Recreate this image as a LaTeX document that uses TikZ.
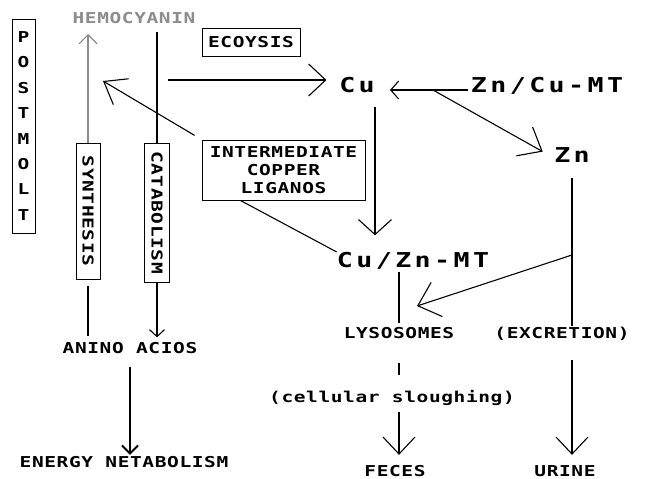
\documentclass[tikz,border=0pt]{standalone}
\usepackage{fontspec}
\usetikzlibrary{arrows.meta}
\newfontfamily\pfs{DejaVu Sans Mono Bold}[FakeStretch=1.3, LetterSpace=4]
\newfontfamily\pfl{DejaVu Sans Mono Bold}[FakeStretch=1.3, LetterSpace=16.6]
\definecolor{hgrey}{RGB}{140,140,140}
\begin{document}
\begin{tikzpicture}[x=1pt,y=-1pt,
  sm/.style={font=\pfs\fontsize{15}{18}\selectfont, inner sep=0pt, text height=10.9pt, text depth=0pt},
  smb/.style={font=\pfs\fontsize{15}{18}\selectfont, inner sep=0pt},
  lg/.style={font=\pfl\fontsize{20.5}{24}\selectfont, inner sep=0pt, text height=15pt, text depth=0pt},
  box/.style={draw, line width=1pt},
  ln/.style={line width=1.1pt},
  tipS/.style={-{Straight Barb[length=7pt,width=15pt]}},
  tipM/.style={-{Straight Barb[length=9pt,width=18pt]}},
  tipB/.style={-{Straight Barb[length=17pt,width=32pt]}}
]
\fill[white] (0,0) rectangle (646,479);
\useasboundingbox (0,0) rectangle (646,479);

% nodes
\node[box, font=\pfs\fontsize{15}{25.4}\selectfont, inner sep=0pt, align=center,
      minimum width=23pt, minimum height=214pt] (postmolt) at (23.5,126) {P\\O\\S\\T\\M\\O\\L\\T};
\node[sm, text=hgrey] (hemo) at (134,18) {HEMOCYANIN};
\node[box, sm, minimum width=98pt, minimum height=28pt] (ecd) at (251,42) {ECOYSIS};
\node[box, smb, align=center, minimum width=163pt, minimum height=60pt] (inter) at (283.5,170)
      {INTERMEDIATE\\COPPER\\LIGANOS};
\node[box, smb, minimum width=24pt, minimum height=136pt] (synth) at (88,211) {\rotatebox{-90}{SYNTHESIS}};
\node[box, smb, minimum width=25pt, minimum height=139pt] (catab) at (157,212.5) {\rotatebox{-90}{CATABOLISM}};
\node[lg] (cu) at (357,85) {Cu};
\node[lg] (zncu) at (547,85) {Zn/Cu-MT};
\node[lg] (zn) at (572,155) {Zn};
\node[lg] (cuzn) at (413,260) {Cu/Zn-MT};
\node[sm] (amino) at (130,348) {ANINO ACIOS};
\node[sm] (energy) at (124,462) {ENERGY NETABOLISM};
\node[sm] (lyso) at (399,333) {LYSOSOMES};
\node[sm] (slough) at (392,397) {(cellular sloughing)};
\node[sm] (excr) at (562,333) {(EXCRETION)};
\node[sm] (feces) at (395,471) {FECES};
\node[sm] (urine) at (565,471) {URINE};

% free ends
\coordinate (hemoFoot) at (157,32);
\coordinate (hemoTip) at (88,34);
\coordinate (ecdStart) at (168,80);
\coordinate (leftTip) at (103,81);
\coordinate (split) at (433,90);
\coordinate (znSplit) at (572,255);
\coordinate (lysoTip) at (417,306);

% connectors
\draw[ln] (hemoFoot) -- (catab.north);
\draw[ln, hgrey, tipM] (synth.north) -- (hemoTip);
\draw[ln, shorten <=6pt, shorten >=6pt] (synth.south) -- (synth.south |- amino.north);
\draw[ln, tipS, shorten >=5pt] (catab.south) -- (catab.south |- amino.north);
\draw[line width=2pt, -{Straight Barb[length=8pt,width=16pt]}, shorten <=13pt, shorten >=1.5pt]
      (amino.south) -- (amino.south |- energy.north);
\draw[ln, tipB, shorten >=12.6pt] (ecdStart) -- (ecdStart -| cu.west);
\draw[ln, -{Straight Barb[length=20pt,width=30pt]}, shorten <=8pt] (inter.north west) -- (leftTip);
\draw[ln, -{Straight Barb[length=8pt,width=18pt]}, shorten <=3pt, shorten >=15pt]
      ([yshift=-5pt]zncu.west) -- ([yshift=-5pt]cu.east);
\draw[ln, -{Straight Barb[length=20pt,width=33pt]}, shorten >=13pt] (split) -- ([yshift=-3pt]zn.west);
\draw[ln, -{Straight Barb[length=15pt,width=33pt]}, shorten <=14pt, shorten >=17pt]
      ([xshift=18pt]cu.south) -- ([xshift=18pt]cu.south |- cuzn.north);
\draw[ln] ([xshift=-43pt]inter.south) -- ([yshift=8pt]cuzn.west);
\draw[ln, shorten <=15pt, shorten >=1pt] (zn.south) -- (zn.south |- excr.north);
\draw[ln, tipB, shorten <=21.5pt, shorten >=10.5pt] (zn.south |- excr.south) -- (zn.south |- urine.north);
\draw[ln, -{Straight Barb[length=20pt,width=36pt]}] (znSplit) -- (lysoTip);
\draw[ln, shorten <=4.5pt, shorten >=4.5pt] (lyso.north) -- (lyso.north |- cuzn.south);
\draw[ln, shorten <=24.5pt, shorten >=16.5pt] (lyso.south) -- (lyso.south |- slough.north);
\draw[ln, tipB, shorten <=9.5pt, shorten >=10.5pt] (lyso.south |- slough.south) -- (lyso.south |- feces.north);
\end{tikzpicture}
\end{document}
